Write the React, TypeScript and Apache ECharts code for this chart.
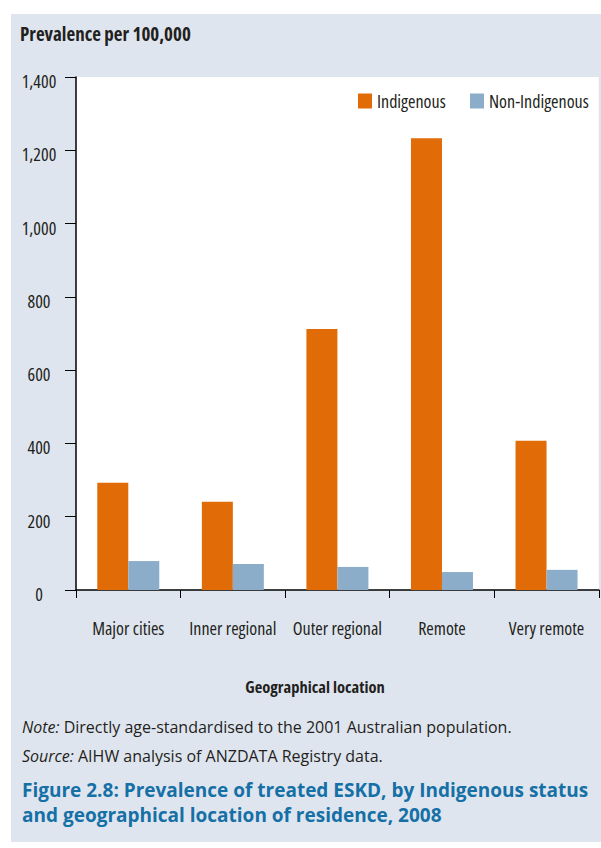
import React, { useEffect, useRef } from "react";
import * as echarts from "echarts";

const categories = ["Major cities", "Inner regional", "Outer regional", "Remote", "Very remote"];
const indigenous = [293, 241, 712, 1233, 407];
const nonIndigenous = [79, 71, 63, 49, 55];
const seriesNames = ["Indigenous", "Non-Indigenous"];
const yTitle = "Prevalence per 100,000";
const xTitle = "Geographical location";
const noteLabel = "Note:";
const noteText = " Directly age-standardised to the 2001 Australian population.";
const sourceLabel = "Source:";
const sourceText = " AIHW analysis of ANZDATA Registry data.";
const figTitle1 = "Figure 2.8: Prevalence of treated ESKD, by Indigenous status";
const figTitle2 = "and geographical location of residence, 2008";

const SANS = "'Open Sans', 'Liberation Sans', sans-serif";
const COND = "'Open Sans', OSCond, sans-serif";
const BG = "#dfe5ef";
const INK = "#231f20";

export default function App() {
  const ref = useRef<HTMLDivElement>(null);
  useEffect(() => {
    if (!ref.current) return;
    const chart = echarts.init(ref.current, undefined, { renderer: "svg" });
    const legendText = { fontFamily: COND, fontSize: 18, color: INK };
    chart.setOption({
      animation: false,
      backgroundColor: "#ffffff",
      graphic: [
        { type: "rect", z: -10, shape: { x: 11, y: 14, width: 590, height: 828 }, style: { fill: BG } },
        { type: "text", left: 20, top: 24, style: { text: yTitle, font: `condensed bold 19px ${SANS}`, fill: INK } },
        {
          type: "text", x: 315, y: 686,
          style: { text: xTitle, font: `condensed bold 16.5px ${SANS}`, fill: INK, align: "center", verticalAlign: "middle" },
        },
        {
          type: "text", left: 22, top: 719,
          style: {
            text: `{i|${noteLabel}}{n|${noteText}}`,
            rich: {
              i: { fontStyle: "italic", fontSize: 16, fontFamily: SANS, fill: INK },
              n: { fontSize: 16, fontFamily: SANS, fill: INK },
            },
          },
        },
        {
          type: "text", left: 22, top: 748,
          style: {
            text: `{i|${sourceLabel}}{n|${sourceText}}`,
            rich: {
              i: { fontStyle: "italic", fontSize: 16, fontFamily: SANS, fill: INK },
              n: { fontSize: 16, fontFamily: SANS, fill: INK },
            },
          },
        },
        { type: "text", left: 22, top: 780, style: { text: figTitle1, font: `bold 19px ${SANS}`, fill: "#1570a6" } },
        { type: "text", left: 22, top: 805, style: { text: figTitle2, font: `bold 19px ${SANS}`, fill: "#1570a6" } },
      ],
      legend: [
        {
          left: 358, top: 92, padding: 0, itemWidth: 14, itemHeight: 15, icon: "rect",
          textStyle: legendText, data: [seriesNames[0]],
        },
        {
          left: 470, top: 92, padding: 0, itemWidth: 14, itemHeight: 15, icon: "rect",
          textStyle: legendText, data: [seriesNames[1]],
        },
      ],
      grid: {
        left: 76, top: 77, right: 0, bottom: 258,
        show: true, backgroundColor: "#ffffff", borderWidth: 0,
      },
      xAxis: {
        type: "category",
        data: categories,
        axisLine: { lineStyle: { color: "#000", width: 1.5 } },
        axisTick: { show: true, length: 8, lineStyle: { color: "#000" } },
        axisLabel: { interval: 0, margin: 29, fontFamily: COND, fontSize: 18, color: INK },
      },
      yAxis: {
        type: "value",
        min: 0, max: 1400, interval: 200,
        axisLine: { show: true, lineStyle: { color: "#000", width: 1.5 } },
        axisTick: { show: true, length: 11, lineStyle: { color: "#000" } },
        splitLine: { show: false },
        axisLabel: {
          margin: 37, align: "center", verticalAlign: "top", padding: [-5, 0, 0, 0],
          fontFamily: COND, fontSize: 18, color: INK,
          formatter: (v: number) => v.toLocaleString("en-US"),
        },
      },
      series: [
        { name: seriesNames[0], type: "bar", data: indigenous, barWidth: 31, barGap: "0%", itemStyle: { color: "#e06b07" } },
        { name: seriesNames[1], type: "bar", data: nonIndigenous, barWidth: 31, barGap: "0%", itemStyle: { color: "#8cadca" } },
      ],
    });
    return () => chart.dispose();
  }, []);
  return (
    <>
      <style>{`text[style*="OSCond"], tspan[style*="OSCond"] { font-stretch: 75%; }`}</style>
      <div ref={ref} style={{ position: "absolute", left: 0, top: 0, width: 601, height: 848 }} />
    </>
  );
}
